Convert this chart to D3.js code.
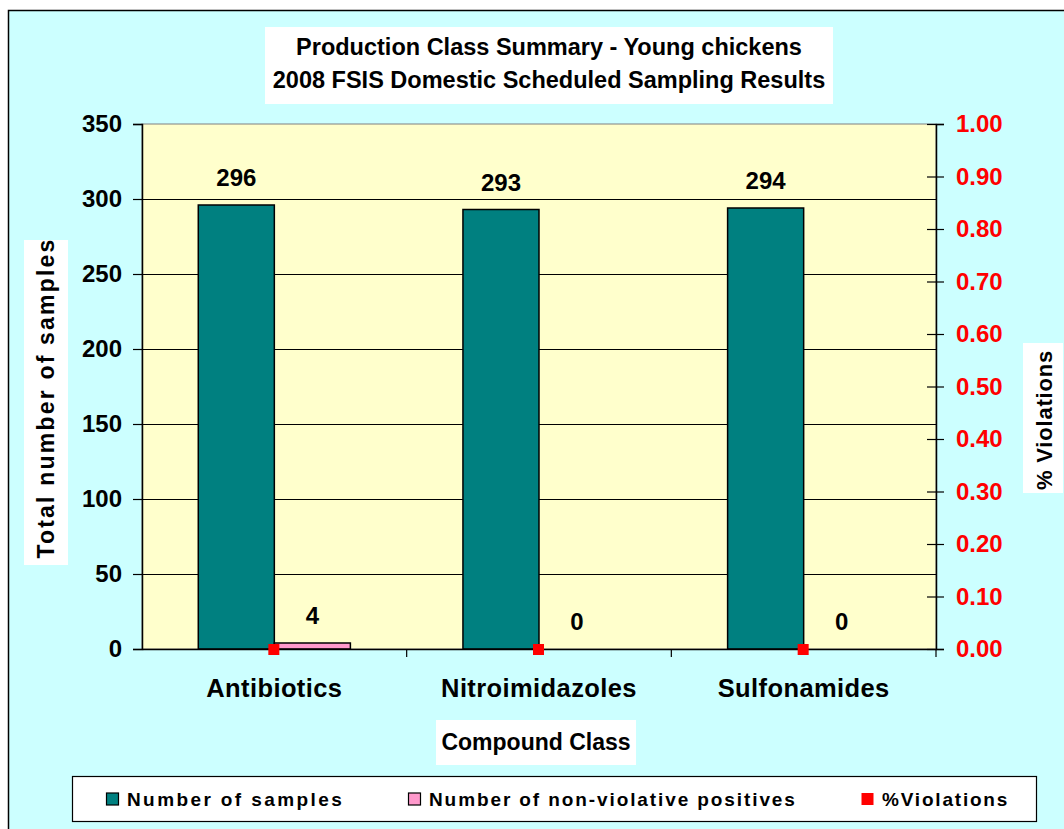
<!DOCTYPE html>
<html>
<head>
<meta charset="utf-8">
<script src="https://cdn.jsdelivr.net/npm/d3@7"></script>
<style>
  html, body { margin: 0; padding: 0; background: #ffffff; }
  svg { display: block; font-family: "Liberation Sans", Arial, sans-serif; font-weight: bold; }
</style>
</head>
<body>
<svg id="chart" width="1064" height="829"></svg>
<script>
// Data
const categories = ["Antibiotics", "Nitroimidazoles", "Sulfonamides"];
const seriesNames = ["Number of samples", "Number of non-violative positives"];
const numberOfSamples = [296, 293, 294];
const nonViolativePositives = [4, 0, 0];
const pctViolations = [0.00, 0.00, 0.00];
const leftTicks = [0, 50, 100, 150, 200, 250, 300, 350];
const rightTicks = [0.0, 0.1, 0.2, 0.3, 0.4, 0.5, 0.6, 0.7, 0.8, 0.9, 1.0];
const titleLines = ["Production Class Summary - Young chickens", "2008 FSIS Domestic Scheduled Sampling Results"];

const barColors = ["#008080", "#FF99CC"];
const markerColor = "#FF0000";
const FONT = "Liberation Sans, Arial, sans-serif";

const svg = d3.select("#chart");

// Chart background and frame
svg.append("rect").attr("x", 8.5).attr("y", 10.5).attr("width", 1070).attr("height", 830)
  .attr("fill", "#CCFFFF").attr("stroke", "#000").attr("stroke-width", 1.5);

const plot = { left: 142, right: 936, top: 124, bottom: 649 };

const y = d3.scaleLinear().domain([0, 350]).range([plot.bottom, plot.top]);
const y2 = d3.scaleLinear().domain([0, 1]).range([plot.bottom, plot.top]);
const x0 = d3.scaleBand().domain(categories).range([plot.left, plot.right]).padding(0);
const groupWidth = x0.bandwidth() / 1.74;
const x1 = d3.scaleBand().domain(seriesNames).range([0, groupWidth]).padding(0);
const groupOffset = (x0.bandwidth() - groupWidth) / 2;

// Plot area
svg.append("rect").attr("x", plot.left).attr("y", plot.top)
  .attr("width", plot.right - plot.left).attr("height", plot.bottom - plot.top)
  .attr("fill", "#FFFFCC").attr("stroke", "#808080").attr("stroke-width", 1);

// Gridlines
svg.append("g").selectAll("line").data(leftTicks.filter(d => d > 0 && d < 350)).join("line")
  .attr("x1", plot.left).attr("x2", plot.right)
  .attr("y1", d => Math.round(y(d)) + 0.5).attr("y2", d => Math.round(y(d)) + 0.5)
  .attr("stroke", "#000").attr("stroke-width", 1);

// Bars
const rows = categories.map((c, i) => ({ cat: c, vals: [numberOfSamples[i], nonViolativePositives[i]] }));
const groups = svg.append("g").selectAll("g").data(rows).join("g")
  .attr("transform", d => `translate(${x0(d.cat) + groupOffset},0)`);

groups.selectAll("rect").data(d => d.vals.map((v, j) => ({ v, s: seriesNames[j], j }))).join("rect")
  .filter(d => d.v > 0)
  .attr("x", d => x1(d.s))
  .attr("y", d => y(d.v))
  .attr("width", x1.bandwidth())
  .attr("height", d => y(0) - y(d.v))
  .attr("fill", d => barColors[d.j])
  .attr("stroke", "#000").attr("stroke-width", 1.5);

// Value labels
groups.selectAll("text").data(d => d.vals.map((v, j) => ({ v, s: seriesNames[j] }))).join("text")
  .attr("x", d => x1(d.s) + x1.bandwidth() / 2)
  .attr("y", d => y(d.v) - 19)
  .attr("text-anchor", "middle")
  .attr("font-size", 24)
  .attr("fill", "#000")
  .text(d => d.v);

// Left axis
const leftAxis = svg.append("g").attr("transform", `translate(${plot.left},0)`)
  .call(d3.axisLeft(y).tickValues(leftTicks).tickSize(9).tickPadding(11).tickFormat(d3.format("d")));
leftAxis.select(".domain").attr("stroke", "#000").attr("stroke-width", 1.5);
leftAxis.selectAll(".tick line").attr("stroke", "#000").attr("stroke-width", 1.2);
leftAxis.selectAll(".tick text").attr("font-size", 24).attr("font-family", FONT)
  .attr("font-weight", "bold").attr("fill", "#000");

// Right axis
const rightAxis = svg.append("g").attr("transform", `translate(${plot.right},0)`)
  .call(d3.axisRight(y2).tickValues(rightTicks).tickSize(8).tickPadding(12).tickFormat(d3.format(".2f")));
rightAxis.select(".domain").attr("stroke", "#000").attr("stroke-width", 1.5);
rightAxis.selectAll(".tick line").attr("x1", -9).attr("x2", 8).attr("stroke", "#000").attr("stroke-width", 1.2);
rightAxis.selectAll(".tick text").attr("font-size", 24).attr("font-family", FONT)
  .attr("font-weight", "bold").attr("fill", "#FF0000");

// Bottom axis
const bottomAxis = svg.append("g").attr("transform", `translate(0,${plot.bottom})`)
  .call(d3.axisBottom(x0).tickSize(0).tickPadding(30));
bottomAxis.select(".domain").attr("stroke", "#000").attr("stroke-width", 1.5);
bottomAxis.selectAll(".tick text").attr("font-size", 25.5).attr("font-family", FONT)
  .attr("font-weight", "bold").attr("fill", "#000").attr("letter-spacing", 0.4);
bottomAxis.selectAll("line.boundary").data(categories).join("line").attr("class", "boundary")
  .attr("x1", d => x0(d) + x0.bandwidth()).attr("x2", d => x0(d) + x0.bandwidth())
  .attr("y1", 0).attr("y2", 8).attr("stroke", "#000").attr("stroke-width", 1.2);

// %Violations markers
svg.append("g").selectAll("rect").data(categories.map((c, i) => ({ c, v: pctViolations[i] }))).join("rect")
  .attr("x", d => x0(d.c) + x0.bandwidth() / 2 - 6)
  .attr("y", d => y2(d.v) - 5)
  .attr("width", 11).attr("height", 11)
  .attr("fill", markerColor);

// Title
svg.append("rect").attr("x", 265).attr("y", 27).attr("width", 568).attr("height", 77).attr("fill", "#fff");
svg.append("text").attr("x", 549).attr("y", 55).attr("text-anchor", "middle").attr("font-size", 23.5)
  .selectAll("tspan").data(titleLines).join("tspan")
  .attr("x", 549).attr("dy", (d, i) => i === 0 ? 0 : 33).text(d => d);

// Axis titles
svg.append("rect").attr("x", 24).attr("y", 240).attr("width", 44).attr("height", 325).attr("fill", "#fff");
svg.append("text").attr("transform", "translate(54,398) rotate(-90)").attr("text-anchor", "middle")
  .attr("font-size", 23).attr("letter-spacing", 2.2).text("Total number of samples");

svg.append("rect").attr("x", 1023).attr("y", 343).attr("width", 40).attr("height", 150).attr("fill", "#fff");
svg.append("text").attr("transform", "translate(1052,420) rotate(-90)").attr("text-anchor", "middle")
  .attr("font-size", 22).attr("letter-spacing", 0.8).text("% Violations");

svg.append("rect").attr("x", 436).attr("y", 720).attr("width", 200).attr("height", 45).attr("fill", "#fff");
svg.append("text").attr("x", 536).attr("y", 750).attr("text-anchor", "middle")
  .attr("font-size", 23).text("Compound Class");

// Legend
svg.append("rect").attr("x", 72.5).attr("y", 776.5).attr("width", 964).attr("height", 45)
  .attr("fill", "#fff").attr("stroke", "#000").attr("stroke-width", 1.2);
const legendItems = [
  { label: seriesNames[0], color: barColors[0], x: 106, outline: true, ls: 2.4 },
  { label: seriesNames[1], color: barColors[1], x: 408, outline: true, ls: 1.9 },
  { label: "%Violations", color: markerColor, x: 861, outline: false, ls: 1.8 }
];
const leg = svg.append("g").selectAll("g").data(legendItems).join("g")
  .attr("transform", d => `translate(${d.x},799)`);
leg.append("rect").attr("x", 0.5).attr("y", -6).attr("width", 12).attr("height", 12)
  .attr("fill", d => d.color).attr("stroke", d => d.outline ? "#000" : "none").attr("stroke-width", 1.2);
leg.append("text").attr("x", 21).attr("y", 7).attr("font-size", 19).attr("letter-spacing", d => d.ls)
  .text(d => d.label);
</script>
</body>
</html>
